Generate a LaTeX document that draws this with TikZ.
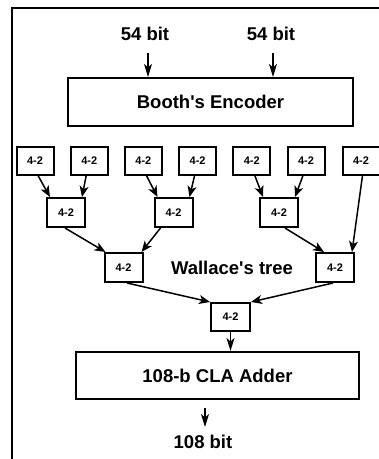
\documentclass[tikz,border=0pt]{standalone}
\usepackage{fontspec}
\setmainfont{Liberation Sans}
\usetikzlibrary{arrows.meta}

\tikzset{
  lbl/.style={font=\bfseries\fontsize{18.5}{20}\selectfont, inner sep=0pt},
  unit/.style={draw, line width=2pt, minimum width=37pt, minimum height=28pt,
               inner sep=0pt, font=\bfseries\fontsize{11}{12}\selectfont},
  bigbox/.style={draw, line width=2.1pt, inner sep=0pt,
                 font=\bfseries\fontsize{18.5}{20}\selectfont},
  feed/.style={line width=1.5pt, -{Stealth[length=11pt,width=9pt,inset=3pt]}},
  io/.style={line width=1.6pt, -{Stealth[length=13pt,width=8pt,inset=3.5pt]}},
}

\begin{document}
\begin{tikzpicture}[x=1pt,y=-1pt]
  \clip (0,0) rectangle (379,459);
  % frame (top and left edges)
  \draw[line width=2.5pt] (12,470) -- (12,8) -- (390,8);

  % inputs
  \node[lbl] (inA) at (145,34) {54 bit};
  \node[lbl] (inB) at (271,34) {54 bit};
  \coordinate (ia) at (148,53);
  \coordinate (ib) at (273,53);

  % Booth encoder
  \node[bigbox, minimum width=285pt, minimum height=48pt] (booth) at (210.5,102)
    {Booth\textquotesingle s Encoder};
  \draw[io] (ia) -- (ia |- booth.north);
  \draw[io] (ib) -- (ib |- booth.north);

  % first row of 4-2 compressors
  \node[unit] (t1) at (35,160.5) {4-2};
  \node[unit] (t2) at (89.2,160.5) {4-2};
  \node[unit] (t3) at (143.4,160.5) {4-2};
  \node[unit] (t4) at (197.6,160.5) {4-2};
  \node[unit] (t5) at (251.8,160.5) {4-2};
  \node[unit] (t6) at (306,160.5) {4-2};
  \node[unit] (t7) at (361,160.5) {4-2};

  % second row
  \node[unit, minimum width=38pt, minimum height=29pt] (a) at (66,212.5) {4-2};
  \node[unit, minimum width=38pt, minimum height=29pt] (b) at (173.5,212.5) {4-2};
  \node[unit, minimum width=38pt, minimum height=29pt] (c) at (279,212.5) {4-2};

  % third row
  \node[unit, minimum width=38pt, minimum height=29pt] (e) at (123.5,267.5) {4-2};
  \node[unit, minimum width=38pt, minimum height=29pt] (d) at (335,267.5) {4-2};
  \node[lbl] (wt) at (232,268) {Wallace\textquotesingle s tree};

  % final compressor
  \node[unit, minimum width=39pt, minimum height=28pt] (f) at (230.5,317) {4-2};

  % adder and output
  \node[bigbox, minimum width=283pt, minimum height=47pt] (cla) at (217.5,375.5)
    {108-b CLA Adder};
  \node[lbl] (res) at (203,442) {108 bit};
  \coordinate (o1) at (205,408);
  \coordinate (o2) at (205,427);

  % tree connections
  \draw[feed] ([xshift=3pt]t1.south) -- ([xshift=4pt]a.north west);
  \draw[feed] ([xshift=-3pt]t2.south) -- ([xshift=-4pt]a.north east);
  \draw[feed] ([xshift=3pt]t3.south) -- ([xshift=4pt]b.north west);
  \draw[feed] ([xshift=-3pt]t4.south) -- ([xshift=-4pt]b.north east);
  \draw[feed] ([xshift=3pt]t5.south) -- ([xshift=4pt]c.north west);
  \draw[feed] ([xshift=-3pt]t6.south) -- ([xshift=-4pt]c.north east);
  \draw[feed] ([xshift=1.5pt]t7.south) -- ([xshift=-3pt]d.north east);

  \draw[feed] ([xshift=-1pt]a.south) -- ([xshift=2pt]e.north west);
  \draw[feed] ([xshift=-13pt]b.south) -- ([xshift=-2pt]e.north east);
  \draw[feed] ([xshift=6pt]c.south) -- ([xshift=9pt]d.north west);

  \draw[feed] ([xshift=3.5pt]e.south) -- (f.north west);
  \draw[feed] ([xshift=-2pt]d.south) -- (f.north east);

  \draw[io] (f.south) -- (f.south |- cla.north);
  \draw[io] (o1) -- (o2);
\end{tikzpicture}
\end{document}
